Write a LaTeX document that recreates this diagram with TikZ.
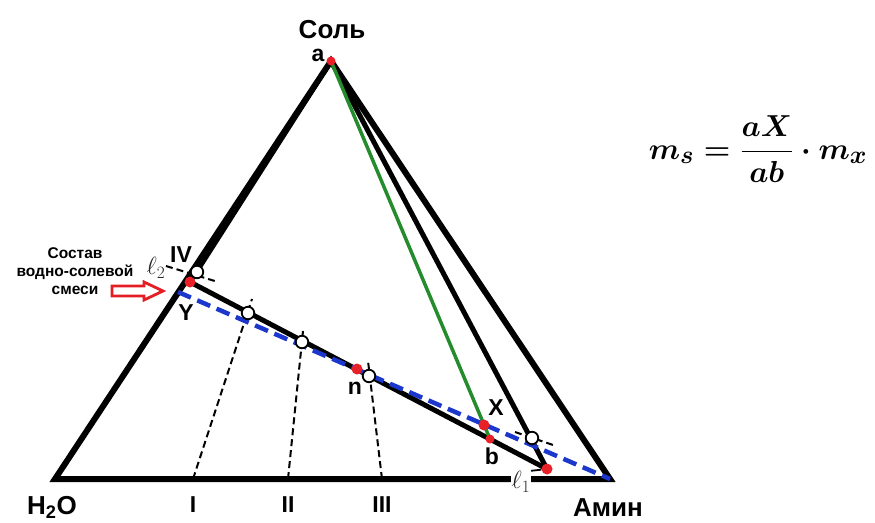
\documentclass[tikz,border=0pt]{standalone}
\usepackage{fontspec}
\setmainfont{Liberation Sans}
\usepackage{amsmath,graphicx}
\usetikzlibrary{positioning}
\definecolor{dotred}{RGB}{232,32,40}
\definecolor{tiegreen}{RGB}{36,140,44}
\definecolor{tieblue}{RGB}{28,56,204}
\definecolor{arrowred}{RGB}{228,30,36}
\definecolor{ellgray}{RGB}{40,40,40}

\begin{document}
\begin{tikzpicture}[x=1pt,y=-1pt,
  edge/.style={line width=6pt},
  tie/.style={line width=5pt},
  guide/.style={line width=2pt,dash pattern=on 7pt off 4pt},
  rdot/.style={circle,fill=dotred,inner sep=0pt,minimum size=11pt},
  odot/.style={circle,draw,fill=white,line width=1.8pt,inner sep=0pt,minimum size=12.5pt},
  lab/.style={font=\fontsize{23}{25}\selectfont\bfseries,inner sep=1pt},
  big/.style={font=\fontsize{26}{30}\selectfont\bfseries,inner sep=1pt}]
  \useasboundingbox (0,0) rectangle (875,522);
  \coordinate (w) at (55,479);
  \coordinate (s) at (331,61);
  \coordinate (m) at (610,479);
  \coordinate (Y) at (190,282);
  \coordinate (e1) at (547,469);
  \coordinate (b) at (490,439);
  \coordinate (bl) at (178,292);
  \draw[edge] (w) -- (s) -- (m) -- cycle;
  \draw[tie] (s) -- (Y);
  \draw[tie] (s) -- (e1);
  \draw[tie] (Y) -- (e1);
  \draw[tie,tiegreen,line width=3.5pt] (s) -- (b);
  \foreach \n/\bx/\tx/\ty/\r in {1/193/252/299/I, 2/288/303/331/II, 3/382/368/361/III}{
    \coordinate (g\n) at (\bx,479);
    \coordinate (t\n) at (\tx,\ty);
    \draw[guide] (g\n) -- (t\n);
    \node[lab] (r\n) at (\bx,505) {\r};
  }
  \coordinate (d2a) at (166,266);
  \coordinate (d2b) at (218,282);
  \coordinate (d1a) at (515,432);
  \coordinate (d1b) at (556,446);
  \draw[guide] (d2a) -- (d2b);
  \draw[guide] (d1a) -- (d1b);
  \draw[line width=4.5pt,tieblue,dash pattern=on 14pt off 7pt] (bl) -- (m);
  \node[rdot,minimum size=9pt] (a) at (s) {};
  \node[rdot] (pY) at (Y) {};
  \node[rdot] (pn) at (357,369) {};
  \node[rdot] (pX) at (484,425) {};
  \node[rdot,minimum size=9pt] (pb) at (b) {};
  \node[rdot] (pe) at (e1) {};
  \foreach \c/\x/\y in {c4/197/272, c1/248/313, c2/302/342, c3/369/376, c5/532/438}
    \node[odot] (\c) at (\x,\y) {};
  \node[font=\fontsize{26}{28}\selectfont,text=ellgray,fill=white,inner sep=0.5pt] (l1) at (521,482) {$\ell_1$};
  \node[font=\fontsize{26}{28}\selectfont,text=ellgray,inner sep=0.5pt] (l2) at (156,268) {$\ell_2$};
  \draw[line width=1.8pt] (l1.north east) -- (pe);
  \node[lab] (la) at (318,55) {a};
  \node[lab] (lIV) at (181,255) {IV};
  \node[lab] (lY) at (186,313) {Y};
  \node[lab] (ln) at (355,388) {n};
  \node[lab] (lX) at (496,408) {X};
  \node[lab] (lb) at (492,456) {b};
  \node[big] (salt) at (332,30) {Соль};
  \node[big] (amine) at (608,508) {Амин};
  \node[big] (water) at (52,507) {H\textsubscript{2}O};
  \node[align=center,font=\fontsize{15.5}{18}\selectfont\bfseries] (mix) at (75,271) {Состав\\водно-солевой\\смеси};
  \draw[arrowred,line width=2.8pt,fill=white,line join=miter] (112,286) -- (144,286) -- (144,282) -- (163,291) -- (144,300) -- (144,296) -- (112,296) -- cycle;
  \node[font=\fontsize{24.88}{30}\selectfont] (eq) at (758,149) {\scalebox{1.22}{{\boldmath$\displaystyle m_s=\frac{aX}{ab}\cdot m_x$}}};
\end{tikzpicture}
\end{document}
